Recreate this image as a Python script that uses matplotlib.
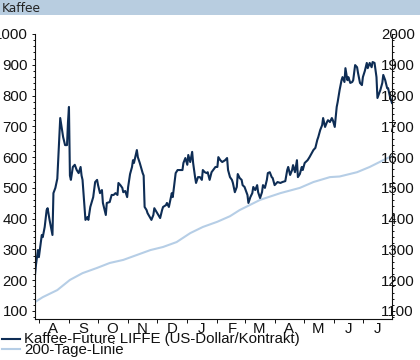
"""
Kaffee-Future LIFFE chart with 200-day line.
Values are read off the reference picture (left scale 100-1000,
right scale is the same axis labelled +1000).
"""

import pandas as pd
import matplotlib
matplotlib.use("Agg")
import matplotlib.pyplot as plt
import matplotlib.dates as mdates
from matplotlib.lines import Line2D
from matplotlib.patches import Rectangle
from matplotlib.ticker import MultipleLocator, FuncFormatter, NullFormatter

plt.rcParams["font.family"] = ["Liberation Sans", "DejaVu Sans"]

START = "2009-07-28"
END = "2010-07-31"

# day offsets from START and price (left scale units)
price_days = [
    0, 1, 2, 3, 4, 7, 8, 10, 12, 13, 15, 18, 19, 21, 23, 26, 29, 31, 33, 34,
    35, 36, 37, 38, 39, 41, 43, 45, 47, 48, 49, 52, 54, 55, 57, 60, 62, 64, 65, 67,
    69, 70, 73, 74, 77, 79, 81, 83, 85, 86, 88, 90, 91, 93, 95, 96, 98, 100, 101, 102,
    105, 106, 108, 111, 112, 113, 115, 116, 120, 122, 123, 126, 127, 129, 131, 132, 135, 136, 138, 141,
    142, 145, 147, 152, 153, 155, 157, 158, 160, 162, 163, 165, 166, 168, 170, 172, 173, 175, 177, 178,
    180, 182, 186, 188, 189, 191, 193, 196, 198, 199, 201, 203, 204, 206, 208, 209, 211, 213, 214, 216,
    219, 220, 222, 224, 225, 227, 229, 230, 232, 234, 235, 237, 239, 240, 242, 244, 245, 247, 249, 250,
    253, 255, 258, 260, 261, 263, 265, 266, 268, 270, 271, 273, 275, 276, 278, 281, 283, 287, 289, 291,
    292, 294, 296, 297, 299, 301, 302, 304, 306, 307, 309, 311, 312, 314, 316, 317, 319, 320, 322, 323,
    325, 327, 328, 330, 332, 333, 335, 337, 338, 340, 342, 343, 345, 347, 348, 350, 352, 353, 356, 358,
    359, 361, 363, 364, 366, 368,
]
price = [
    217, 250, 275, 298, 275, 347, 340, 373, 428, 434, 396, 347, 483, 500, 530, 727, 665, 639, 639, 714,
    763, 540, 526, 548, 568, 575, 558, 548, 568, 540, 526, 396, 405, 396, 438, 470, 519, 526, 509, 483,
    493, 451, 412, 451, 454, 477, 477, 483, 477, 516, 509, 500, 486, 490, 470, 503, 545, 568, 590, 581,
    623, 600, 581, 548, 540, 438, 428, 418, 396, 412, 434, 418, 412, 402, 428, 438, 444, 451, 438, 483,
    470, 548, 558, 558, 581, 597, 575, 607, 584, 617, 581, 535, 516, 535, 535, 526, 558, 551, 548, 551,
    526, 551, 568, 568, 600, 590, 584, 590, 597, 558, 535, 526, 516, 486, 503, 545, 532, 526, 509, 503,
    477, 451, 470, 483, 503, 493, 509, 486, 467, 486, 509, 500, 526, 548, 551, 535, 532, 509, 516, 519,
    516, 519, 522, 558, 568, 542, 558, 574, 551, 590, 535, 545, 568, 558, 581, 590, 600, 623, 630, 656,
    665, 688, 704, 727, 698, 714, 720, 714, 727, 720, 698, 763, 779, 818, 850, 860, 844, 889, 850, 860,
    841, 844, 850, 899, 892, 873, 841, 834, 860, 880, 906, 889, 906, 892, 909, 906, 860, 792, 818, 841,
    867, 850, 824, 824, 795, 776,
]

ma_days = [0, 8, 23, 36, 49, 64, 77, 91, 105, 119, 132, 146, 160, 173, 188, 201, 211, 232,
           253, 273, 287, 304, 314, 332, 345, 359, 368]
ma200 = [129, 145, 168, 201, 223, 240, 256, 266, 282, 298, 308, 324, 353, 373, 390, 408, 428, 461,
         483, 500, 519, 535, 537, 551, 568, 590, 604]

MONTH_LETTERS = ["J", "F", "M", "A", "M", "J", "J", "A", "S", "O", "N", "D"]
LABEL_PRICE = "Kaffee-Future LIFFE (US-Dollar/Kontrakt)"
LABEL_MA = "200-Tage-Linie"
RIGHT_OFFSET = 1000

DARK = "#0e2d55"
LIGHT = "#b6cee6"
BAR = "#b8cde0"

start = pd.Timestamp(START)
x_price = start + pd.to_timedelta(price_days, unit="D")
x_ma = start + pd.to_timedelta(ma_days, unit="D")

fig = plt.figure(figsize=(4.2, 3.6), dpi=100)
W, H = 420, 360

# title bar
fig.patches.append(Rectangle((0, 1 - 15 / H), 1, 15 / H, transform=fig.transFigure,
                             facecolor=BAR, edgecolor="none", zorder=0))
fig.text(2 / W, 1 - 12.5 / H, "Kaffee", family="DejaVu Sans", fontsize=8.8,
         color="#222222", va="baseline", ha="left")

ax = fig.add_axes([35 / W, 1 - 319 / H, (392 - 35) / W, (319 - 34) / H])
ax.plot(x_ma, ma200, color=LIGHT, lw=1.5, solid_capstyle="butt")
ax.plot(x_price, price, color=DARK, lw=1.5, solid_joinstyle="round")

ax.set_xlim(start, pd.Timestamp(END))
ax.set_ylim(74, 1000)

for side in ["top", "right"]:
    ax.spines[side].set_visible(False)
for side in ["left", "bottom"]:
    ax.spines[side].set_linewidth(0.8)
    ax.spines[side].set_color("#111111")

ax.yaxis.set_major_locator(MultipleLocator(100))
ax.yaxis.set_minor_locator(MultipleLocator(20))
ax.tick_params(axis="y", which="major", direction="out", length=2.5, width=0.7,
               pad=2.6, labelsize=10.8, colors="#111111")
ax.tick_params(axis="y", which="minor", direction="out", length=1.6, width=0.7,
               colors="#111111")

ax.xaxis.set_major_locator(mdates.MonthLocator())
ax.xaxis.set_major_formatter(NullFormatter())
ax.xaxis.set_minor_locator(mdates.MonthLocator(bymonthday=16))
ax.xaxis.set_minor_formatter(FuncFormatter(
    lambda v, pos: MONTH_LETTERS[mdates.num2date(v).month - 1]))
ax.tick_params(axis="x", which="major", direction="out", length=3, width=0.7,
               colors="#111111")
ax.tick_params(axis="x", which="minor", length=0, pad=2.5, labelsize=10.8,
               colors="#111111")

# right-hand scale: same axis, labels shifted by 1000
rax = ax.twinx()
rax.set_ylim(ax.get_ylim())
for side in ["top", "left", "bottom"]:
    rax.spines[side].set_visible(False)
rax.spines["right"].set_linewidth(0.8)
rax.spines["right"].set_color("#111111")
rax.yaxis.set_major_locator(MultipleLocator(100))
rax.yaxis.set_minor_locator(MultipleLocator(20))
rax.yaxis.set_major_formatter(FuncFormatter(lambda v, pos: f"{v + RIGHT_OFFSET:.0f}"))
rax.tick_params(axis="y", which="major", direction="out", length=2.5, width=0.7,
                pad=-10.5, labelsize=10.8, colors="#111111")
rax.tick_params(axis="y", which="minor", direction="out", length=1.6, width=0.7,
                colors="#111111")

# legend below the plot, tight line spacing like the original
fig.add_artist(Line2D([2 / W, 20 / W], [1 - 339 / H] * 2, color=DARK, lw=1.5,
                      transform=fig.transFigure))
fig.add_artist(Line2D([2 / W, 20 / W], [1 - 349 / H] * 2, color=LIGHT, lw=1.5,
                      transform=fig.transFigure))
fig.text(24 / W, 1 - 343 / H, LABEL_PRICE, fontsize=10.8, va="baseline", color="#111111")
fig.text(24 / W, 1 - 354 / H, LABEL_MA, fontsize=10.8, va="baseline", color="#111111")

fig.savefig("out.png", dpi=100)
